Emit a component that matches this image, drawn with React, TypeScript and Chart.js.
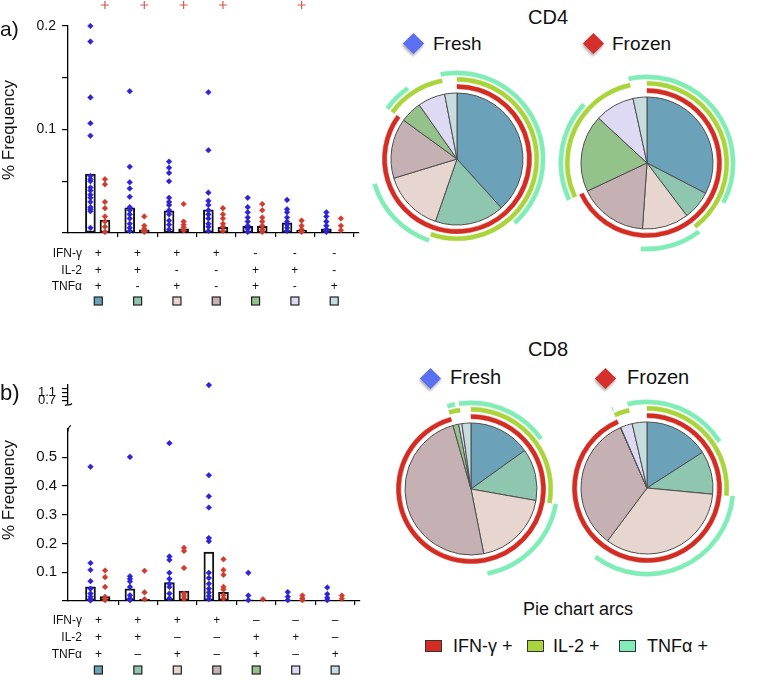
import React, { useEffect, useRef } from 'react';
import { Chart, registerables } from 'chart.js';
Chart.register(...registerables);

const FONT = '"Liberation Sans", Arial, Helvetica, sans-serif';
Chart.defaults.font.family = FONT;

// ---------- categories ----------
const rowNames = ['IFN-γ', 'IL-2', 'TNFα'];
const ifnSigns = ['+', '+', '+', '+', '-', '-', '-'];
const il2Signs = ['+', '+', '-', '-', '+', '+', '-'];
const tnfSigns = ['+', '-', '+', '-', '+', '-', '+'];
const sliceColors = ['#6ba1b9', '#8fc6b0', '#e6d6cf', '#c5b0b4', '#94c28b', '#dedaf3', '#c6dcdf'];

// ---------- (a) CD4 % frequency ----------
const cd4FreshPts = [
  [0.2, 0.185, 0.131, 0.106, 0.094, 0.055, 0.052, 0.05, 0.044, 0.041, 0.037, 0.034, 0.03, 0.025, 0.023, 0.021, 0.005],
  [0.137, 0.064, 0.049, 0.043, 0.035, 0.025, 0.022, 0.018, 0.014, 0.009, 0.005, 0.002],
  [0.069, 0.063, 0.058, 0.05, 0.034, 0.03, 0.027, 0.022, 0.018, 0.012, 0.008, 0.0035],
  [0.136, 0.08, 0.039, 0.031, 0.027, 0.022, 0.018, 0.014, 0.009, 0.006, 0.002],
  [0.034, 0.025, 0.02, 0.015, 0.011, 0.007, 0.004, 0.001],
  [0.032, 0.023, 0.02, 0.015, 0.011, 0.008, 0.005, 0.002],
  [0.02, 0.016, 0.011, 0.007, 0.0035, 0.001],
];
const cd4FrozenPts = [
  [0.052, 0.047, 0.03, 0.024, 0.016, 0.011, 0.006, 0.001],
  [0.016, 0.007, 0.004, 0.002, 0.001],
  [0.028, 0.011, 0.008, 0.0055, 0.0025],
  [0.024, 0.018, 0.014, 0.009, 0.006, 0.002],
  [0.028, 0.022, 0.015, 0.011, 0.007, 0.0035, 0.001],
  [0.012, 0.007, 0.0035, 0.001],
  [0.014, 0.007, 0.0026],
];
const cd4FreshMean = [0.057, 0.0244, 0.0215, 0.0224, 0.0064, 0.0099, 0.004];
const cd4FrozenMean = [0.0125, 0.003, 0.004, 0.0055, 0.0064, 0.0026, 0.001];
const cd4Sig = [true, true, true, true, false, true, false];
const cd4YTicks = [0, 0.05, 0.1, 0.15, 0.2];
const cd4YLabels = [0.1, 0.2];

// ---------- (b) CD8 % frequency ----------
const cd8FreshPts = [
  [0.467, 0.132, 0.108, 0.069, 0.043, 0.026, 0.015, 0.006, 0.002],
  [0.501, 0.086, 0.077, 0.068, 0.049, 0.02, 0.009, 0.003],
  [0.549, 0.155, 0.143, 0.098, 0.077, 0.06, 0.049, 0.026, 0.009],
  [1.45, 0.4375, 0.364, 0.325, 0.219, 0.208, 0.098, 0.08, 0.06, 0.043, 0.03, 0.017, 0.006],
  [0.098, 0.019, 0.003],
  [0.031, 0.015, 0.003],
  [0.047, 0.024, 0.011, 0.003],
];
const cd8FrozenPts = [
  [0.106, 0.083, 0.049, 0.015, 0.003],
  [0.105, 0.03, 0.006],
  [0.185, 0.174, 0.115, 0.026, 0.017, 0.008],
  [0.145, 0.108, 0.091, 0.049, 0.04, 0.02, 0.009],
  [0.006],
  [0.019, 0.009, 0.003],
  [0.019, 0.008],
];
const cd8FreshMean = [0.049, 0.042, 0.064, 0.17, 0.004, 0.003, 0.003];
const cd8FrozenMean = [0.015, 0.006, 0.034, 0.03, 0.001, 0.002, 0.002];
const cd8LowTicks = [0, 0.1, 0.2, 0.3, 0.4, 0.5];
const cd8LowLabels = [0.1, 0.2, 0.3, 0.4, 0.5];
const cd8HighTicks = [0.7, 0.9, 1.1, 1.3];
const cd8HighLabels = [0.7, 1.1];
const cd8Break = 0.6;

// ---------- pie slices (% of responding cells) ----------
const cd4FreshPie = [38.3, 17.0, 15.0, 14.7, 5.3, 6.7, 3.0];
const cd4FrozenPie = [32.6, 7.1, 11.4, 16.9, 18.9, 9.7, 3.4];
const cd8FreshPie = [15.1, 12.7, 19.1, 48.7, 1.4, 0.8, 2.2];
const cd8FrozenPie = [15.9, 10.6, 33.7, 33.2, 0.1, 2.9, 3.6];

const arcNames = ['IFN-γ +', 'IL-2 +', 'TNFα +'];
const arcColors = ['#d32d23', '#aad43c', '#80ecb6'];
const FRESH_COLOR = '#2a22dc';
const FROZEN_COLOR = '#d23a2c';
const SIG_COLOR = '#d85a4e';

// ---------- geometry ----------
const X_MIN = -0.27;
const X_MAX = 7.13;
const PLOT_W = 292;
const FRESH_OFF = 0.3;
const FROZEN_OFF = 0.67;

function toPts(groups: number[][], off: number, keep: (v: number) => boolean) {
  const out: { x: number; y: number }[] = [];
  groups.forEach((g, i) => g.forEach((v) => { if (keep(v)) out.push({ x: i + off, y: v }); }));
  return out;
}

function belowAxisPlugin(rowOffsets: number[], squareOffset: number) {
  return {
    id: 'belowAxis',
    afterDraw(chart: any) {
      const { ctx, chartArea, scales } = chart;
      ctx.save();
      ctx.font = `12px ${FONT}`;
      ctx.fillStyle = '#111';
      ctx.textAlign = 'right';
      ctx.textBaseline = 'middle';
      rowNames.forEach((t, i) => ctx.fillText(t, chartArea.left + 14, chartArea.bottom + rowOffsets[i]));
      sliceColors.forEach((c, i) => {
        const cx = scales.x.getPixelForValue(i + 0.5);
        const cy = chartArea.bottom + squareOffset;
        ctx.fillStyle = c;
        ctx.fillRect(cx - 4, cy - 4, 8, 8);
        ctx.strokeStyle = '#222';
        ctx.lineWidth = 1.2;
        ctx.strokeRect(cx - 4, cy - 4, 8, 8);
      });
      ctx.restore();
    },
  };
}

// significance "+" marks above the frozen columns (outside the plot area)
function sigPlugin(sig: boolean[], sigY: number) {
  return {
    id: 'sigMarks',
    afterDraw(chart: any) {
      const { ctx, scales } = chart;
      ctx.save();
      ctx.strokeStyle = SIG_COLOR;
      ctx.lineWidth = 1.2;
      sig.forEach((s, i) => {
        if (!s) return;
        const px = scales.x.getPixelForValue(i + FROZEN_OFF);
        const py = scales.y.getPixelForValue(sigY);
        ctx.beginPath();
        ctx.moveTo(px - 4, py);
        ctx.lineTo(px + 4, py);
        ctx.moveTo(px, py - 4);
        ctx.lineTo(px, py + 4);
        ctx.stroke();
      });
      ctx.restore();
    },
  };
}

function breakPlugin(where: 'top' | 'bottom') {
  return {
    id: 'axisBreak',
    afterDraw(chart: any) {
      const { ctx, chartArea } = chart;
      const x = chartArea.left;
      ctx.save();
      ctx.strokeStyle = '#000';
      ctx.lineWidth = 1.2;
      ctx.beginPath();
      if (where === 'top') {
        const y = chartArea.top;
        ctx.moveTo(x, y + 3);
        ctx.bezierCurveTo(x, y, x + 1, y - 2, x + 3, y - 3);
      } else {
        const y = chartArea.bottom;
        ctx.moveTo(x - 3, y + 2);
        ctx.bezierCurveTo(x - 1, y, x + 1, y + 3, x + 4, y);
      }
      ctx.stroke();
      ctx.restore();
    },
  };
}

interface ScatterOpts {
  fresh: number[][];
  frozen: number[][];
  freshMean?: number[];
  frozenMean?: number[];
  sig?: boolean[];
  sigY?: number;
  keep: (v: number) => boolean;
  yMin: number;
  yMax: number;
  yTicks: number[];
  yLabels: number[];
  yFont: number;
  yPad: number;
  showX: boolean;
  minus: string;
  lineH: number;
  xPad: number;
  xHeight: number;
  rowOffsets: number[];
  squareOffset: number;
  padding: any;
  brk?: 'top' | 'bottom';
}

function scatterConfig(o: ScatterOpts): any {
  const datasets: any[] = [];
  if (o.freshMean && o.frozenMean) {
    const barBase = {
      type: 'bar', grouped: false, barThickness: 10, order: 3,
      backgroundColor: 'rgba(255,255,255,0)', borderColor: '#111', borderWidth: 1.3, borderSkipped: false,
    };
    datasets.push({ ...barBase, data: o.freshMean.map((m, i) => ({ x: i + FRESH_OFF, y: m })) });
    datasets.push({ ...barBase, data: o.frozenMean.map((m, i) => ({ x: i + FROZEN_OFF, y: m })) });
  }
  const ptBase = { type: 'scatter', order: 1, clip: false, pointStyle: 'rectRot', pointRadius: 2.8, borderWidth: 0.6 };
  datasets.push({ ...ptBase, data: toPts(o.fresh, FRESH_OFF, o.keep), backgroundColor: FRESH_COLOR, borderColor: FRESH_COLOR });
  datasets.push({ ...ptBase, data: toPts(o.frozen, FROZEN_OFF, o.keep), backgroundColor: FROZEN_COLOR, borderColor: FROZEN_COLOR });
  const signs = o.showX ? [ifnSigns, il2Signs, tnfSigns] : [];
  const plugins: any[] = [];
  if (o.showX) plugins.push(belowAxisPlugin(o.rowOffsets, o.squareOffset));
  if (o.sig && o.sigY !== undefined) plugins.push(sigPlugin(o.sig, o.sigY));
  if (o.brk) plugins.push(breakPlugin(o.brk));
  const fmt = (v: number) => v.toFixed(1);
  return {
    type: 'scatter',
    data: { datasets },
    plugins,
    options: {
      responsive: false,
      animation: false,
      events: [],
      layout: { padding: o.padding },
      plugins: { legend: { display: false }, tooltip: { enabled: false } },
      scales: {
        x: {
          type: 'linear', min: X_MIN, max: X_MAX, offset: false, display: o.showX,
          grid: { display: true, offset: false, drawOnChartArea: false, drawTicks: true, tickLength: 4, color: '#000', lineWidth: 1.2 },
          border: { display: true, color: '#000', width: 1.3 },
          afterBuildTicks: (s: any) => { s.ticks = [1, 2, 3, 4, 5, 6, 7].map((v) => ({ value: v })); },
          afterFit: (s: any) => { s.height = o.xHeight; },
          ticks: {
            autoSkip: false, maxRotation: 0, minRotation: 0, padding: o.xPad,
            labelOffset: -PLOT_W / (X_MAX - X_MIN) / 2,
            color: '#111', font: { size: 12, family: FONT, lineHeight: o.lineH },
            callback: (v: any) => {
              const i = Math.round(Number(v)) - 1;
              return signs.map((arr) => (arr[i] === '-' ? o.minus : arr[i]));
            },
          },
        },
        y: {
          type: 'linear', min: o.yMin, max: o.yMax,
          afterBuildTicks: (s: any) => { s.ticks = o.yTicks.map((v) => ({ value: v })); },
          afterFit: (s: any) => { s.width = 68; },
          grid: { drawOnChartArea: false, drawTicks: true, tickLength: 6, color: '#000', lineWidth: 1.2 },
          border: { display: true, color: '#000', width: 1.3 },
          ticks: {
            autoSkip: false, padding: o.yPad, color: '#111', font: { size: o.yFont, family: FONT, lineHeight: 1 },
            callback: (v: any) => (o.yLabels.some((l) => Math.abs(l - Number(v)) < 1e-9) ? fmt(Number(v)) : ''),
          },
        },
      },
    },
  };
}

function pieConfig(values: number[]): any {
  const signSets = [ifnSigns, il2Signs, tnfSigns];
  const ring = (k: number, w: number) => ({
    data: values, weight: w,
    backgroundColor: signSets[k].map((s) => (s === '+' ? arcColors[k] : 'rgba(0,0,0,0)')),
    borderColor: signSets[k].map((s) => (s === '+' ? arcColors[k] : 'rgba(0,0,0,0)')),
    borderWidth: 0.5,
  });
  const gap = (w: number) => ({ data: [1], weight: w, backgroundColor: ['rgba(0,0,0,0)'], borderWidth: 0 });
  return {
    type: 'pie',
    data: {
      datasets: [
        ring(2, 4.2), gap(2.2), ring(1, 4.2), gap(3), ring(0, 4.3), gap(4.3),
        { data: values, weight: 66, backgroundColor: sliceColors, borderColor: '#4d4d4d', borderWidth: 1 },
      ],
    },
    options: {
      responsive: false, animation: false, events: [], radius: 88.2, cutout: 0,
      plugins: { legend: { display: false }, tooltip: { enabled: false } },
    },
  };
}

function ChartBox({ make, left, top, width, height }: { make: () => any; left: number; top: number; width: number; height: number }) {
  const ref = useRef<HTMLCanvasElement>(null);
  useEffect(() => {
    const chart = new Chart(ref.current as HTMLCanvasElement, make());
    return () => chart.destroy();
  }, []);
  return <canvas ref={ref} width={width} height={height} style={{ position: 'absolute', left, top, width, height }} />;
}

function Txt({ x, y, size, children, center, rotate }: any) {
  return (
    <div
      style={{
        position: 'absolute', left: x, top: y, fontSize: size, lineHeight: 1, fontFamily: FONT, color: '#111',
        whiteSpace: 'nowrap',
        transform: rotate ? 'translate(-50%,-50%) rotate(-90deg)' : center ? 'translateX(-50%)' : undefined,
      }}
    >
      {children}
    </div>
  );
}

function Diamond({ cx, cy, color }: { cx: number; cy: number; color: string }) {
  return (
    <div
      style={{
        position: 'absolute', left: cx - 7.5, top: cy - 7.5, width: 15, height: 15, background: color,
        transform: 'rotate(45deg)', boxShadow: '1px 2px 3px rgba(0,0,0,0.35)',
      }}
    />
  );
}

function Pie({ values, cx, cy }: { values: number[]; cx: number; cy: number }) {
  return <ChartBox make={() => pieConfig(values)} left={cx - 92} top={cy - 92} width={184} height={184} />;
}

export default function App() {
  const aCfg = () =>
    scatterConfig({
      fresh: cd4FreshPts, frozen: cd4FrozenPts, freshMean: cd4FreshMean, frozenMean: cd4FrozenMean, sig: cd4Sig, sigY: 0.2203,
      keep: () => true, yMin: 0, yMax: 0.2, yTicks: cd4YTicks, yLabels: cd4YLabels, yFont: 14, yPad: 6,
      showX: true, minus: '-', lineH: 16.5 / 12, xPad: 8.5, xHeight: 79, rowOffsets: [21, 37.5, 54], squareOffset: 68,
      padding: { top: 26, right: 6, left: 0, bottom: 0 },
    });
  const bLowCfg = () =>
    scatterConfig({
      fresh: cd8FreshPts, frozen: cd8FrozenPts, freshMean: cd8FreshMean, frozenMean: cd8FrozenMean,
      keep: (v) => v <= cd8Break, yMin: 0, yMax: cd8Break, yTicks: cd8LowTicks, yLabels: cd8LowLabels, yFont: 15, yPad: 5,
      showX: true, minus: '–', lineH: 17 / 12, xPad: 7.5, xHeight: 79, rowOffsets: [20, 37, 54], squareOffset: 69,
      padding: { top: 9, right: 6, left: 0, bottom: 0 }, brk: 'top',
    });
  const bHighCfg = () =>
    scatterConfig({
      fresh: cd8FreshPts, frozen: cd8FrozenPts,
      keep: (v) => v > cd8Break, yMin: 0.56, yMax: 1.48, yTicks: cd8HighTicks, yLabels: cd8HighLabels, yFont: 13, yPad: 6,
      showX: false, minus: '–', lineH: 1, xPad: 0, xHeight: 0, rowOffsets: [], squareOffset: 0,
      padding: { top: 8, right: 6, left: 0, bottom: 6 }, brk: 'bottom',
    });

  return (
    <div style={{ position: 'absolute', left: 0, top: 0, width: 762, height: 680, background: '#fff', overflow: 'hidden' }}>
      {/* (a) */}
      <ChartBox make={aCfg} left={0} top={0} width={366} height={312} />
      <Txt x={0} y={18} size={21}>a)</Txt>
      <Txt x={8} y={130} size={17} rotate>% Frequency</Txt>

      {/* (b) */}
      <ChartBox make={bHighCfg} left={0} top={372} width={366} height={44} />
      <ChartBox make={bLowCfg} left={0} top={416} width={366} height={264} />
      <Txt x={0} y={382} size={22}>b)</Txt>
      <Txt x={8} y={490} size={17} rotate>% Frequency</Txt>

      {/* CD4 pies */}
      <Txt x={548} y={7} size={20} center>CD4</Txt>
      <Diamond cx={413} cy={43.5} color="#5a70f2" />
      <Txt x={433} y={34} size={19}>Fresh</Txt>
      <Diamond cx={593} cy={43.5} color="#d6302a" />
      <Txt x={612} y={34} size={19}>Frozen</Txt>
      <Pie values={cd4FreshPie} cx={457} cy={158.5} />
      <Pie values={cd4FrozenPie} cx={647.3} cy={163} />

      {/* CD8 pies */}
      <Txt x={548} y={339} size={20} center>CD8</Txt>
      <Diamond cx={430} cy={378.3} color="#5a70f2" />
      <Txt x={450} y={367} size={20}>Fresh</Txt>
      <Diamond cx={605} cy={378.3} color="#d6302a" />
      <Txt x={627} y={367} size={20}>Frozen</Txt>
      <Pie values={cd8FreshPie} cx={470.5} cy={489} />
      <Pie values={cd8FrozenPie} cx={647.2} cy={488} />

      {/* arcs legend */}
      <Txt x={578} y={600} size={18} center>Pie chart arcs</Txt>
      {arcNames.map((name, i) => {
        const boxX = [425, 527, 619][i];
        const textX = [453, 553, 647][i];
        return (
          <React.Fragment key={name}>
            <div style={{ position: 'absolute', left: boxX, top: 640, width: 17, height: 12, boxSizing: 'border-box', background: arcColors[i], border: '1.5px solid #333' }} />
            <Txt x={textX} y={636.5} size={18}>{name}</Txt>
          </React.Fragment>
        );
      })}
    </div>
  );
}
